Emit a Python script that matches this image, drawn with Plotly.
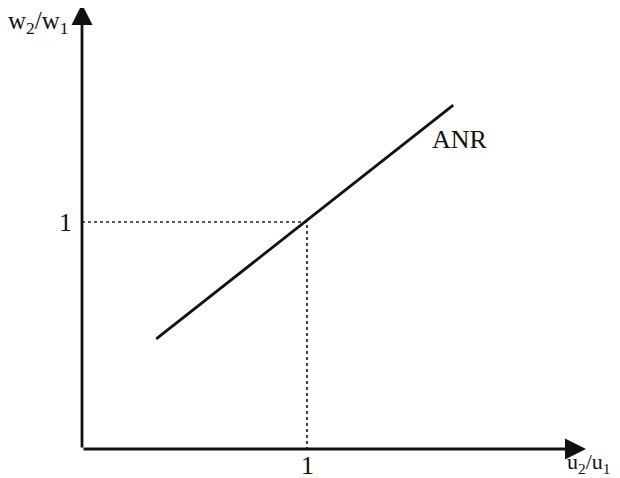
import plotly.graph_objects as go

# Data (in axis units: 1 = the reference level on each axis)
anr_x = [0.33, 1.65]
anr_y = [0.485, 1.515]
ref_point_x = [1.0]
ref_point_y = [1.0]
x_axis_end = 2.24
y_axis_end = 1.96
x_tick_labels = ["1"]
y_tick_labels = ["1"]
x_title = "u<sub>2</sub>/u<sub>1</sub>"
y_title = "w<sub>2</sub>/w<sub>1</sub>"
line_label = "ANR"

FONT = "Liberation Serif, Times New Roman, serif"
# page has an 8px body margin, so the figure is drawn 8px smaller
W, H = 612, 470
x0_px, xpu = 74, 225.0
y0_px, ypu = 441, 227.0

fig = go.Figure()

# dotted guide lines to (1,1)
fig.add_trace(go.Scatter(
    x=[0, ref_point_x[0], ref_point_x[0]],
    y=[ref_point_y[0], ref_point_y[0], 0],
    mode="lines", line=dict(color="#222", width=1.7, dash="dot"),
    hoverinfo="skip", showlegend=False))

# ANR line
fig.add_trace(go.Scatter(
    x=anr_x, y=anr_y, mode="lines",
    line=dict(color="#111", width=2.8),
    hoverinfo="skip", showlegend=False))

# axes with arrows
fig.add_annotation(x=x_axis_end, y=0, ax=0, ay=0, xref="x", yref="y",
                   axref="x", ayref="y", showarrow=True, arrowhead=2,
                   arrowsize=1.5, arrowwidth=2.8, arrowcolor="#111", text="")
fig.add_annotation(x=0, y=y_axis_end, ax=0, ay=0, xref="x", yref="y",
                   axref="x", ayref="y", showarrow=True, arrowhead=2,
                   arrowsize=1.5, arrowwidth=2.8, arrowcolor="#111", text="")

# tick labels
fig.add_annotation(x=ref_point_x[0], y=-0.072, xref="x", yref="y", text=x_tick_labels[0],
                   showarrow=False, font=dict(family=FONT, size=26, color="#111"))
fig.add_annotation(x=-0.075, y=ref_point_y[0], xref="x", yref="y", text=y_tick_labels[0],
                   showarrow=False, font=dict(family=FONT, size=26, color="#111"))

# axis titles
fig.add_annotation(x=-0.195, y=1.88, xref="x", yref="y", text=y_title,
                   showarrow=False, font=dict(family=FONT, size=25, color="#111"))
fig.add_annotation(x=2.255, y=-0.06, xref="x", yref="y", text=x_title,
                   showarrow=False, font=dict(family=FONT, size=22, color="#111"))

# ANR label
fig.add_annotation(x=1.68, y=1.365, xref="x", yref="y", text=line_label,
                   showarrow=False, font=dict(family=FONT, size=26, color="#111"))

fig.update_layout(
    width=W, height=H, margin=dict(l=0, r=0, t=0, b=0),
    paper_bgcolor="white", plot_bgcolor="white",
    xaxis=dict(range=[-x0_px / xpu, (W - x0_px) / xpu], visible=False, fixedrange=True),
    yaxis=dict(range=[-(H - y0_px) / ypu, y0_px / ypu], visible=False, fixedrange=True),
)

fig.write_html("out.html")
